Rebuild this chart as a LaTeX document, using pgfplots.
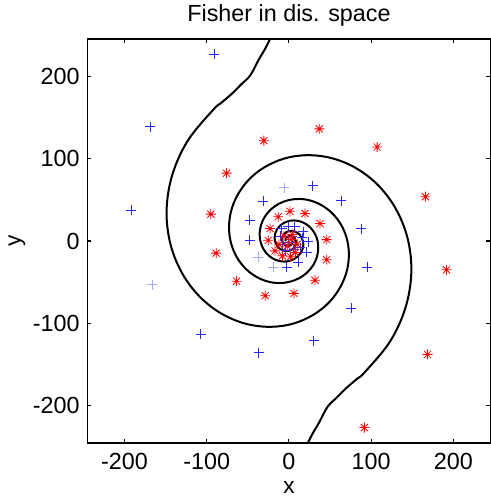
\documentclass[border=0pt]{standalone}
\usepackage{pgfplots}
\pgfplotsset{compat=1.18}
\usepackage{fontspec}
\setmainfont{Liberation Sans}
\definecolor{mblue}{rgb}{0,0,1}
\definecolor{mred}{rgb}{1,0,0}
\pgfdeclareplotmark{mstar}{%
  \pgfpathmoveto{\pgfqpoint{-\pgfplotmarksize}{0pt}}\pgfpathlineto{\pgfqpoint{\pgfplotmarksize}{0pt}}%
  \pgfpathmoveto{\pgfqpoint{0pt}{-\pgfplotmarksize}}\pgfpathlineto{\pgfqpoint{0pt}{\pgfplotmarksize}}%
  \pgfpathmoveto{\pgfqpoint{-0.7071\pgfplotmarksize}{-0.7071\pgfplotmarksize}}\pgfpathlineto{\pgfqpoint{0.7071\pgfplotmarksize}{0.7071\pgfplotmarksize}}%
  \pgfpathmoveto{\pgfqpoint{-0.7071\pgfplotmarksize}{0.7071\pgfplotmarksize}}\pgfpathlineto{\pgfqpoint{0.7071\pgfplotmarksize}{-0.7071\pgfplotmarksize}}%
  \pgfusepathqstroke}
\begin{document}
\fontsize{17}{20}\selectfont
\begin{tikzpicture}
\begin{axis}[
  scale only axis,
  width=302.25pt, height=303pt,
  xmin=-245, xmax=245, ymin=-245, ymax=245,
  xtick={-200,-100,0,100,200}, ytick={-200,-100,0,100,200},
  tick align=inside, xtick pos=both, ytick pos=both,
  major tick length=3pt,
  axis line style={line width=1pt},
  every tick/.style={black, line width=0.8pt},
  /pgf/number format/assume math mode=true,
  tick label style={font=\fontsize{17.5}{20}\selectfont},
  xticklabel style={yshift=-2pt},
  label style={font=\fontsize{17}{20}\selectfont},
  title style={font=\fontsize{17.5}{20}\selectfont, at={(0.5,1.06)}, anchor=center, yshift=-6.5pt, inner sep=1pt},
  title={Fisher in dis. space},
  xlabel={x}, ylabel={y},
  xlabel style={at={(0.5,-0.11)}, anchor=center, inner sep=1pt},
  ylabel style={at={(-0.175,0.5)}, anchor=center, inner sep=1pt},
]
% blue class
\addplot[only marks, mark=+, mark size=3.75pt, color=blue!85!white, line width=0.75pt] coordinates {
(-91,226.7) (-168.5,138.5) (-191.6,37.1) (-107.2,-113) (-36.5,-135.5) (30.1,-121.2)
(75.5,-81.8) (95,-32.1) (88.1,14.7) (63.3,48.8) (29.2,67.2)
(-31.3,48.5) (-47.5,25.3) (-47.5,0.9) (-2.8,-31.7) (11.4,-25.6) (21.5,-13.4) (23.5,-1.2)
(17.5,11) (7.3,17.1) (-0.8,17) (-8.9,15) (-10,6) (16,4) (14,-8) (6,-10) (-4,-12) (-8,-4) (4,6) (0,-2)
};
% pale blue marks
\addplot[only marks, mark=+, mark size=3.75pt, mblue!35, line width=0.75pt] coordinates {
(-166.5,-53.2) (-5.7,64.7) (-37.4,-19.5) (-19.1,-31.7)
};
% red class
\addplot[only marks, mark=mstar, mark size=3.75pt, mred, line width=0.6pt] coordinates {
(36.9,136) (-30.5,121.7) (107.2,114) (-75.9,82.3) (166,53.7) (-95,32.6) (-88.5,-14.7)
(191.6,-34.9) (-63.7,-48.8) (-28.9,-66.3) (6.1,-63.5) (31.7,-47.6) (45.9,-22.7) (45.9,1.7)
(168.5,-137.5) (91.7,-226.3)
(1.2,36) (19.5,33.4) (-13,29.3) (37.8,21.2) (-23,15.1) (-25.2,0.8)
(-17,-12) (-8,-18) (2,-19) (8,-14) (-12,-4) (-6,6) (4,8) (10,-4) (-2,-6) (3,2)
};
% decision boundary, arm A
\addplot[black, line width=1.5pt, smooth, tension=0.6] coordinates {
(-23,245) (-28.5,234) (-37,219.5) (-47,201) (-58,190) (-69,179) (-83,167) (-92.0,159.3)
(-122.5,122.5) (-141.4,81.7) (-148.7,39.8) (-145,0) (-131.9,-35.4) (-111.5,-64.4)
(-85.8,-85.8) (-57.2,-99.0) (-27.9,-104.0) (0,-101.5) (24.7,-92.3) (45.1,-78.0)
(60.0,-60.0) (69.3,-40.0) (72.8,-19.5) (71.05,0) (64.7,17.3) (54.6,31.55) (42.0,42.0)
(28.0,48.5) (13.7,51.0) (0,49.7) (-12.1,45.25) (-22.1,38.2) (-29.4,29.4) (-33.9,19.6)
(-35.6,9.55) (-34.8,0) (-31.7,-8.5) (-26.8,-15.45) (-20.6,-20.6) (-13.7,-23.7) (-6.7,-24.9)
(0,-24.35) (5.9,-22.1) (10.8,-18.7) (14.4,-14.4) (16.6,-9.6) (17.5,-4.7) (17.05,0)
(13.1,7.55) (6.7,11.6) (0,11.9) (-5.3,9.2) (-8.1,4.7) (-8.35,0) (-6.4,-3.7) (-3.3,-5.7)
(0,-5.85) (2.6,-4.5) (4.0,-2.3) (4.1,0)
};
% decision boundary, arm B
\addplot[black, line width=1.5pt, smooth, tension=0.6] coordinates {
(23,-245) (28.5,-234) (37,-219.5) (47,-201) (58,-190) (69,-179) (83,-167) (92.0,-159.3)
(122.5,-122.5) (141.4,-81.7) (148.7,-39.8) (145,0) (131.9,35.4) (111.5,64.4)
(85.8,85.8) (57.2,99.0) (27.9,104.0) (0,101.5) (-24.7,92.3) (-45.1,78.0)
(-60.0,60.0) (-69.3,40.0) (-72.8,19.5) (-71.05,0) (-64.7,-17.3) (-54.6,-31.55) (-42.0,-42.0)
(-28.0,-48.5) (-13.7,-51.0) (0,-49.7) (12.1,-45.25) (22.1,-38.2) (29.4,-29.4) (33.9,-19.6)
(35.6,-9.55) (34.8,0) (31.7,8.5) (26.8,15.45) (20.6,20.6) (13.7,23.7) (6.7,24.9)
(0,24.35) (-5.9,22.1) (-10.8,18.7) (-14.4,14.4) (-16.6,9.6) (-17.5,4.7) (-17.05,0)
(-13.1,-7.55) (-6.7,-11.6) (0,-11.9) (5.3,-9.2) (8.1,-4.7) (8.35,0) (6.4,3.7) (3.3,5.7)
(0,5.85) (-2.6,4.5) (-4.0,2.3) (-4.1,0)
};
\end{axis}
\pgfresetboundingbox
\useasboundingbox ([shift={(-65.6pt,-40.5pt)}]current axis.south west) rectangle ([shift={(0.4pt,29.25pt)}]current axis.north east);
\end{tikzpicture}
\end{document}
